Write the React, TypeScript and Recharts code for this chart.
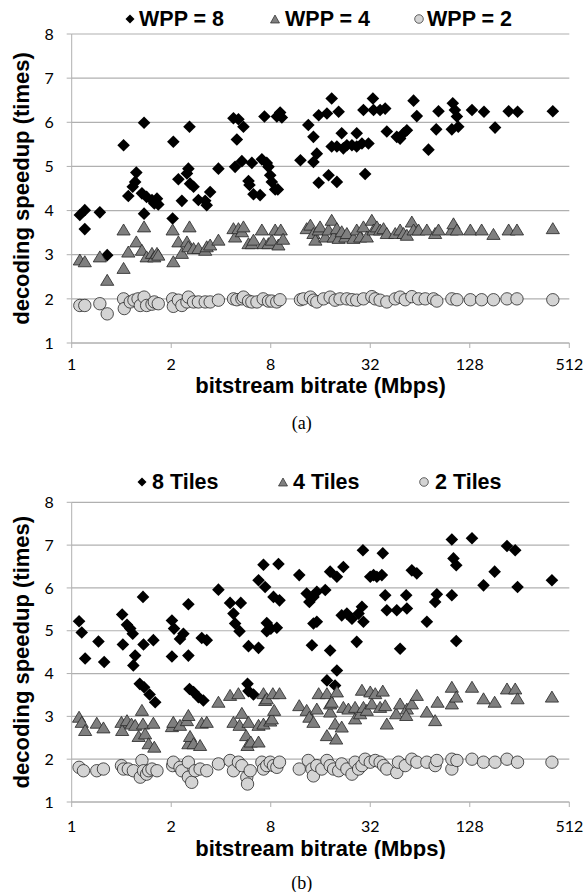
import { ScatterChart, Scatter, XAxis, YAxis, CartesianGrid } from "recharts";

type Pt = [number, number];

// x ticks: the axis starts at 0.5 Mbps but the first label reads "1"
const xTicks = [0.5, 2, 8, 32, 128, 512];
const xTickLabels = ["1", "2", "8", "32", "128", "512"];
const yTicks = [1, 2, 3, 4, 5, 6, 7, 8];

// (a) WPP, [bitrate Mbps, speedup]
const wpp8: Pt[] = [
    [0.56, 3.9], [0.6, 4.01], [0.6, 3.58], [0.74, 3.96], [0.82, 2.99], [1.03, 5.48], [1.1, 4.33],
    [1.17, 4.54], [1.21, 4.65], [1.23, 4.86], [1.37, 5.99], [1.33, 4.39], [1.37, 3.93], [1.42, 4.31],
    [1.53, 4.24], [1.58, 4.16], [1.64, 4.27], [1.67, 4.14], [2.04, 3.82], [2.06, 5.56], [2.21, 4.71],
    [2.32, 4.22], [2.49, 4.84], [2.54, 4.95], [2.58, 5.9], [2.6, 4.61], [2.73, 4.54], [2.92, 4.24],
    [3.21, 4.22], [3.28, 4.12], [3.44, 4.42], [3.86, 4.95], [4.76, 6.09], [4.99, 5.61], [5.1, 6.07],
    [4.87, 4.99], [5.35, 5.12], [5.47, 5.9], [5.87, 4.67], [5.95, 4.58], [6.15, 5.08], [6.29, 4.37],
    [6.9, 4.35], [7.07, 5.16], [7.33, 6.13], [7.57, 5.08], [7.75, 4.99], [7.94, 4.8], [8.12, 4.65],
    [8.51, 4.48], [8.83, 4.48], [8.71, 6.13], [9.12, 6.22], [9.34, 6.11], [12.1, 5.14], [13.5, 5.94],
    [14.5, 5.67], [14.5, 5.1], [15.2, 5.29], [15.6, 6.16], [15.6, 4.63], [17.5, 6.2], [17.9, 4.8],
    [18.7, 6.54], [18.7, 5.45], [20.1, 4.65], [20.6, 6.24], [21.5, 5.75], [20.1, 5.45], [22.0, 5.41],
    [23.1, 5.48], [24.8, 5.48], [26.5, 5.75], [26.5, 5.45], [28.5, 5.52], [29.8, 4.83], [29.1, 6.28],
    [31.2, 5.52], [33.2, 6.54], [33.5, 6.28], [36.7, 6.28], [39.4, 6.31], [40.3, 5.79], [46.3, 5.67],
    [48.5, 5.63], [50.9, 5.75], [53.3, 5.82], [58.5, 6.49], [61.2, 6.14], [72.0, 5.38], [80.2, 5.84],
    [82.8, 6.25], [99.7, 5.84], [101, 6.43], [104, 6.28], [107, 6.13], [109, 5.9], [132, 6.28],
    [156, 6.24], [182, 5.88], [220, 6.25], [249, 6.24], [407, 6.25],
];

const wpp4: Pt[] = [
    [0.56, 2.88], [0.6, 2.84], [0.74, 2.95], [0.82, 2.42], [1.03, 3.56], [1.03, 2.69], [1.1, 3.06],
    [1.23, 3.29], [1.33, 3.1], [1.37, 3.63], [1.42, 2.95], [1.53, 3.03], [1.58, 2.95], [1.64, 3.03],
    [1.67, 2.99], [2.04, 3.56], [2.06, 2.84], [2.21, 3.29], [2.32, 3.03], [2.49, 3.29], [2.54, 3.18],
    [2.58, 3.63], [2.73, 3.14], [2.92, 3.14], [3.21, 3.1], [3.28, 3.18], [3.44, 3.22], [3.86, 3.33],
    [4.76, 3.59], [4.87, 3.4], [5.1, 3.59], [5.35, 3.52], [5.47, 3.63], [5.87, 3.25], [6.15, 3.25],
    [6.29, 3.33], [7.07, 3.56], [7.25, 3.25], [7.75, 3.25], [8.12, 3.33], [8.51, 3.56], [8.9, 3.22],
    [9.2, 3.56], [9.5, 3.35], [13.2, 3.59], [13.9, 3.67], [14.5, 3.48], [14.9, 3.33], [15.6, 3.56],
    [15.9, 3.63], [17.1, 3.4], [17.9, 3.56], [18.7, 3.78], [19.2, 3.4], [20.1, 3.59], [20.6, 3.37],
    [21.5, 3.52], [22.6, 3.4], [23.1, 3.48], [25.3, 3.37], [26.5, 3.56], [27.8, 3.4], [29.1, 3.63],
    [30.5, 3.4], [32.7, 3.78], [33.5, 3.56], [35.1, 3.63], [36.7, 3.56], [38.5, 3.59], [40.3, 3.48],
    [45.3, 3.48], [48.5, 3.56], [50.9, 3.48], [53.3, 3.44], [57.1, 3.74], [58.5, 3.56], [62.7, 3.56],
    [70.4, 3.56], [79.0, 3.48], [82.8, 3.56], [99.7, 3.56], [102, 3.7], [107, 3.56], [129, 3.56],
    [151, 3.56], [178, 3.46], [220, 3.56], [247, 3.56], [407, 3.59],
];

const wpp2: Pt[] = [
    [0.56, 1.85], [0.6, 1.85], [0.74, 1.89], [0.82, 1.66], [1.03, 2.0], [1.04, 1.78], [1.13, 1.93],
    [1.19, 1.97], [1.26, 2.0], [1.3, 1.85], [1.37, 2.04], [1.42, 1.85], [1.53, 1.88], [1.58, 1.93],
    [1.67, 1.89], [2.04, 2.0], [2.06, 1.83], [2.21, 1.97], [2.32, 1.85], [2.49, 1.93], [2.54, 2.04],
    [2.73, 1.93], [2.92, 1.93], [3.21, 1.93], [3.44, 1.93], [3.86, 1.97], [4.76, 2.0], [4.99, 1.98],
    [5.35, 2.0], [5.47, 2.04], [5.87, 1.95], [6.15, 1.93], [6.6, 1.93], [7.2, 2.0], [7.75, 1.95],
    [8.12, 1.95], [8.7, 1.93], [9.1, 1.98], [12.1, 1.98], [12.6, 2.0], [13.9, 2.04], [14.5, 1.97],
    [15.2, 1.93], [16.7, 2.0], [18.3, 2.04], [19.6, 1.97], [21.0, 2.0], [23.1, 2.0], [24.8, 1.98],
    [26.5, 1.97], [29.1, 2.0], [32.7, 2.05], [34.3, 2.0], [36.7, 1.97], [40.3, 1.93], [45.3, 2.0],
    [48.5, 2.04], [52.1, 1.98], [57.1, 2.05], [62.7, 2.0], [68.8, 2.0], [77.2, 2.0], [80.9, 1.95],
    [99.7, 2.0], [107, 1.98], [129, 1.98], [151, 1.98], [178, 1.98], [215, 2.0], [247, 2.0], [407, 1.98],
];

// (b) Tiles
const tiles8: Pt[] = [
    [0.554, 5.22], [0.575, 4.96], [0.603, 4.35], [0.726, 4.75], [0.786, 4.27], [1.01, 5.38], [1.08, 5.14],
    [1.13, 5.05], [1.17, 4.93], [1.02, 4.68], [1.21, 4.42], [1.18, 4.19], [1.35, 5.79], [1.36, 4.68],
    [1.56, 4.78], [1.29, 3.76], [1.37, 3.68], [1.48, 3.51], [1.6, 3.33], [2.02, 5.24], [2.08, 5.05],
    [2.37, 4.93], [2.26, 4.81], [2.02, 4.4], [2.54, 4.42], [2.54, 5.62], [2.58, 3.64], [2.73, 3.57],
    [2.92, 3.45], [3.13, 3.37], [3.06, 4.83], [3.28, 4.78], [3.86, 5.96], [4.54, 5.65], [4.76, 5.4],
    [4.87, 5.17], [5.27, 5.65], [5.18, 4.99], [5.79, 3.76], [5.87, 3.59], [6.29, 3.51], [5.87, 4.64],
    [6.75, 4.6], [7.23, 6.54], [6.75, 6.18], [7.4, 6.02], [7.57, 4.99], [7.57, 5.18], [8.01, 5.05],
    [8.31, 5.79], [9.04, 5.71], [8.91, 6.56], [8.71, 5.07], [11.9, 6.3], [13.2, 5.87], [13.7, 5.67],
    [14.5, 5.79], [15.2, 5.91], [17.1, 5.95], [14.5, 5.17], [15.2, 5.21], [14.2, 4.66], [18.3, 4.54],
    [18.3, 6.38], [20.1, 6.26], [22.0, 6.49], [21.5, 5.36], [23.1, 5.4], [24.8, 5.28], [26.5, 4.74],
    [27.2, 5.4], [28.5, 5.56], [29.1, 5.21], [28.9, 6.88], [32.0, 6.26], [33.5, 6.3], [35.1, 6.26],
    [38.1, 6.81], [37.6, 6.3], [39.4, 5.83], [40.3, 5.48], [46.3, 5.48], [52.8, 5.83], [53.3, 5.52],
    [48.5, 4.58], [57.1, 6.41], [61.2, 6.34], [70.4, 5.21], [79.0, 5.67], [80.9, 5.85], [99.7, 7.13],
    [99.7, 5.83], [102, 6.69], [106, 6.53], [106, 4.76], [132, 7.16], [155, 6.06], [181, 6.38],
    [215, 6.98], [241, 6.88], [249, 6.02], [402, 6.18], [20.1, 4.07], [17.5, 3.84], [19.6, 3.72],
];

const tiles4: Pt[] = [
    [0.554, 2.98], [0.575, 2.86], [0.603, 2.67], [0.709, 2.84], [0.778, 2.73], [1.0, 2.86], [1.01, 2.67],
    [1.08, 2.9], [1.15, 2.82], [1.21, 2.79], [1.27, 2.53], [1.33, 3.14], [1.35, 2.82], [1.39, 2.59],
    [1.46, 2.36], [1.58, 2.28], [1.56, 2.84], [2.02, 2.76], [2.06, 2.86], [2.26, 2.79], [2.49, 2.9],
    [2.54, 3.02], [2.54, 2.36], [2.6, 2.53], [2.73, 2.36], [2.99, 2.32], [3.06, 2.84], [3.28, 2.86],
    [3.86, 3.33], [4.54, 3.49], [4.76, 2.86], [5.1, 3.53], [5.18, 2.79], [5.35, 3.07], [5.68, 2.55],
    [5.79, 2.32], [5.87, 2.86], [6.06, 2.4], [6.75, 2.4], [6.75, 2.79], [7.23, 3.53], [7.4, 3.37],
    [7.57, 3.41], [7.23, 2.82], [7.94, 2.89], [8.12, 2.94], [8.39, 3.14], [8.24, 3.53], [9.04, 3.53],
    [11.9, 3.25], [13.2, 3.14], [13.7, 2.98], [14.5, 2.86], [15.2, 3.17], [15.6, 3.53], [17.5, 3.53],
    [18.3, 3.1], [18.3, 3.29], [18.7, 3.33], [19.6, 2.82], [20.1, 3.57], [21.5, 2.75], [17.5, 2.55],
    [19.9, 2.47], [22.0, 3.21], [23.6, 3.17], [25.9, 3.21], [25.9, 2.94], [27.8, 3.06], [28.5, 3.61],
    [29.1, 3.21], [30.5, 3.14], [32.0, 3.57], [32.7, 3.29], [34.3, 3.53], [36.7, 3.21], [38.1, 3.59],
    [39.4, 3.25], [40.3, 2.82], [45.9, 3.06], [48.5, 3.29], [53.3, 3.17], [52.8, 3.02], [57.1, 3.29],
    [61.2, 3.49], [70.4, 3.1], [79.0, 2.9], [81.7, 3.33], [99.7, 3.68], [99.7, 3.29], [106, 3.45],
    [132, 3.68], [155, 3.41], [181, 3.33], [215, 3.64], [241, 3.64], [249, 3.41], [402, 3.45],
];

const tiles2: Pt[] = [
    [0.554, 1.81], [0.589, 1.73], [0.709, 1.73], [0.778, 1.77], [1.0, 1.85], [1.03, 1.77], [1.1, 1.77],
    [1.18, 1.73], [1.3, 1.58], [1.33, 1.97], [1.36, 1.73], [1.42, 1.65], [1.46, 1.73], [1.53, 1.77],
    [1.64, 1.73], [2.04, 1.85], [2.06, 1.93], [2.26, 1.81], [2.32, 1.73], [2.54, 1.93], [2.54, 1.58],
    [2.66, 1.46], [2.79, 1.73], [2.99, 1.77], [3.28, 1.73], [3.86, 1.89], [4.54, 1.97], [4.76, 1.73],
    [5.1, 1.93], [5.35, 1.85], [5.73, 1.58], [5.79, 1.42], [6.01, 1.73], [7.07, 1.93], [7.23, 1.77],
    [7.57, 1.85], [7.94, 1.93], [8.31, 1.85], [8.71, 1.81], [9.04, 1.93], [11.9, 1.77], [13.5, 1.97],
    [14.2, 1.77], [14.5, 1.61], [15.2, 1.85], [16.3, 1.77], [17.5, 1.97], [18.3, 1.85], [19.2, 1.77],
    [20.6, 1.73], [21.5, 1.89], [23.1, 1.77], [24.8, 1.65], [25.9, 1.93], [27.2, 1.77], [28.5, 1.85],
    [29.8, 2.0], [32.0, 1.93], [34.3, 1.97], [36.7, 1.93], [38.5, 1.85], [40.3, 1.77], [46.3, 1.69],
    [47.4, 1.93], [52.1, 1.85], [57.1, 2.0], [61.2, 1.93], [70.4, 1.93], [79.0, 1.85], [80.9, 1.97],
    [99.7, 1.77], [99.7, 2.0], [107, 1.97], [132, 2.0], [155, 1.93], [182, 1.93], [215, 2.0],
    [249, 1.93], [402, 1.93],
];

const AXIS_GRAY = "#b0b0b0";
const BOLD_FONT = "'Liberation Sans', Arial, sans-serif";
const TICK_FONT = "Lato, 'Liberation Sans', sans-serif";

const toRows = (pts: Pt[]) => pts.map(([x, y]) => ({ x, y }));

const Diamond = (props: any) => {
    const { cx, cy } = props;
    const r = 6.3;
    return <path d={`M${cx},${cy - r}L${cx + r},${cy}L${cx},${cy + r}L${cx - r},${cy}Z`} fill="#000" />;
};

const Triangle = (props: any) => {
    const { cx, cy } = props;
    return (
        <path
            d={`M${cx},${cy - 6}L${cx + 6.6},${cy + 5}L${cx - 6.6},${cy + 5}Z`}
            fill="#7f7f7f"
            stroke="#262626"
            strokeWidth={0.8}
        />
    );
};

const Dot = (props: any) => {
    const { cx, cy } = props;
    return <circle cx={cx} cy={cy} r={6.2} fill="#d4d4d4" stroke="#262626" strokeWidth={0.8} />;
};

const LegendIcon = ({ kind }: { kind: string }) => (
    <svg width={12} height={12} style={{ display: "block" }}>
        {kind === "diamond" && <path d="M6,1.5L10.5,6L6,10.5L1.5,6Z" fill="#000" />}
        {kind === "triangle" && <path d="M6,2L10.5,10L1.5,10Z" fill="#7f7f7f" stroke="#262626" strokeWidth={0.7} />}
        {kind === "circle" && <circle cx={6} cy={6} r={4.3} fill="#d4d4d4" stroke="#262626" strokeWidth={0.7} />}
    </svg>
);

type Series = { name: string; data: Pt[]; kind: string; iconX: number; textX: number };

type PanelProps = {
    top: number;
    height: number;
    plotTop: number;
    legendY: number;
    tickMargin: number;
    titleOffset: number;
    captionY: number;
    caption: string;
    series: Series[];
};

const shapes: Record<string, any> = { diamond: Diamond, triangle: Triangle, circle: Dot };

const Panel = ({ top, height, plotTop, legendY, tickMargin, titleOffset, captionY, caption, series }: PanelProps) => (
    <>
        {/* Legend */}
        {series.map((s) => (
            <div key={s.name}>
                <div style={{ position: "absolute", left: s.iconX - 6, top: top + legendY - 6 }}>
                    <LegendIcon kind={s.kind} />
                </div>
                <div
                    style={{
                        position: "absolute",
                        left: s.textX,
                        top: top + legendY - 13,
                        height: 26,
                        lineHeight: "26px",
                        fontFamily: BOLD_FONT,
                        fontWeight: "bold",
                        fontSize: 21.5,
                        whiteSpace: "nowrap",
                    }}
                >
                    {s.name}
                </div>
            </div>
        ))}

        {/* Chart */}
        <div style={{ position: "absolute", left: 0, top }}>
            <ScatterChart width={587} height={height} margin={{ top: plotTop, right: 17.7, bottom: 0, left: 0 }}>
                <CartesianGrid vertical={false} stroke={AXIS_GRAY} strokeWidth={1.2} />
                <XAxis
                    dataKey="x"
                    type="number"
                    scale="log"
                    domain={[0.5, 512]}
                    ticks={xTicks}
                    interval={0}
                    allowDataOverflow
                    tickFormatter={(v: number) => xTickLabels[xTicks.indexOf(v)] ?? String(v)}
                    height={57}
                    stroke={AXIS_GRAY}
                    tickSize={5}
                    tickMargin={tickMargin}
                    tick={{ fontSize: 16, fill: "#000", fontFamily: TICK_FONT }}
                    label={{
                        value: "bitstream bitrate (Mbps)",
                        position: "insideBottom",
                        offset: titleOffset,
                        style: { fontFamily: BOLD_FONT, fontWeight: "bold", fontSize: 22, fill: "#000" },
                    }}
                />
                <YAxis
                    dataKey="y"
                    type="number"
                    domain={[1, 8]}
                    ticks={yTicks}
                    interval={0}
                    width={71.7}
                    stroke={AXIS_GRAY}
                    tickSize={5}
                    tickMargin={13}
                    tick={{ fontSize: 16, fill: "#000", fontFamily: TICK_FONT }}
                    label={{
                        value: "decoding speedup (times)",
                        angle: -90,
                        position: "insideLeft",
                        offset: 21,
                        style: { textAnchor: "middle", fontFamily: BOLD_FONT, fontWeight: "bold", fontSize: 22, fill: "#000" },
                    }}
                />
                {series.map((s) => (
                    <Scatter
                        key={s.name}
                        name={s.name}
                        data={toRows(s.data)}
                        shape={shapes[s.kind]}
                        isAnimationActive={false}
                    />
                ))}
            </ScatterChart>
        </div>

        {/* Caption */}
        <div
            style={{
                position: "absolute",
                left: 251.7,
                width: 100,
                top: top + captionY - 12,
                height: 24,
                lineHeight: "24px",
                textAlign: "center",
                fontFamily: "'Liberation Serif', 'Times New Roman', serif",
                fontSize: 18,
            }}
        >
            {caption}
        </div>
    </>
);

const App = () => {
    return (
        <div style={{ position: "absolute", left: 0, top: 0, width: 587, height: 892, background: "#fff" }}>
            <Panel
                top={0}
                height={400}
                plotTop={34}
                legendY={19}
                tickMargin={11}
                titleOffset={7}
                captionY={423}
                caption="(a)"
                series={[
                    { name: "WPP = 8", data: wpp8, kind: "diamond", iconX: 130, textX: 139 },
                    { name: "WPP = 4", data: wpp4, kind: "triangle", iconX: 275, textX: 285 },
                    { name: "WPP = 2", data: wpp2, kind: "circle", iconX: 419, textX: 427 },
                ]}
            />
            <Panel
                top={468}
                height={391}
                plotTop={34.3}
                legendY={13.7}
                tickMargin={14}
                titleOffset={3.5}
                captionY={415}
                caption="(b)"
                series={[
                    { name: "8 Tiles", data: tiles8, kind: "diamond", iconX: 142, textX: 152 },
                    { name: "4 Tiles", data: tiles4, kind: "triangle", iconX: 283, textX: 293 },
                    { name: "2 Tiles", data: tiles2, kind: "circle", iconX: 424, textX: 435 },
                ]}
            />
        </div>
    );
};

export default App;
